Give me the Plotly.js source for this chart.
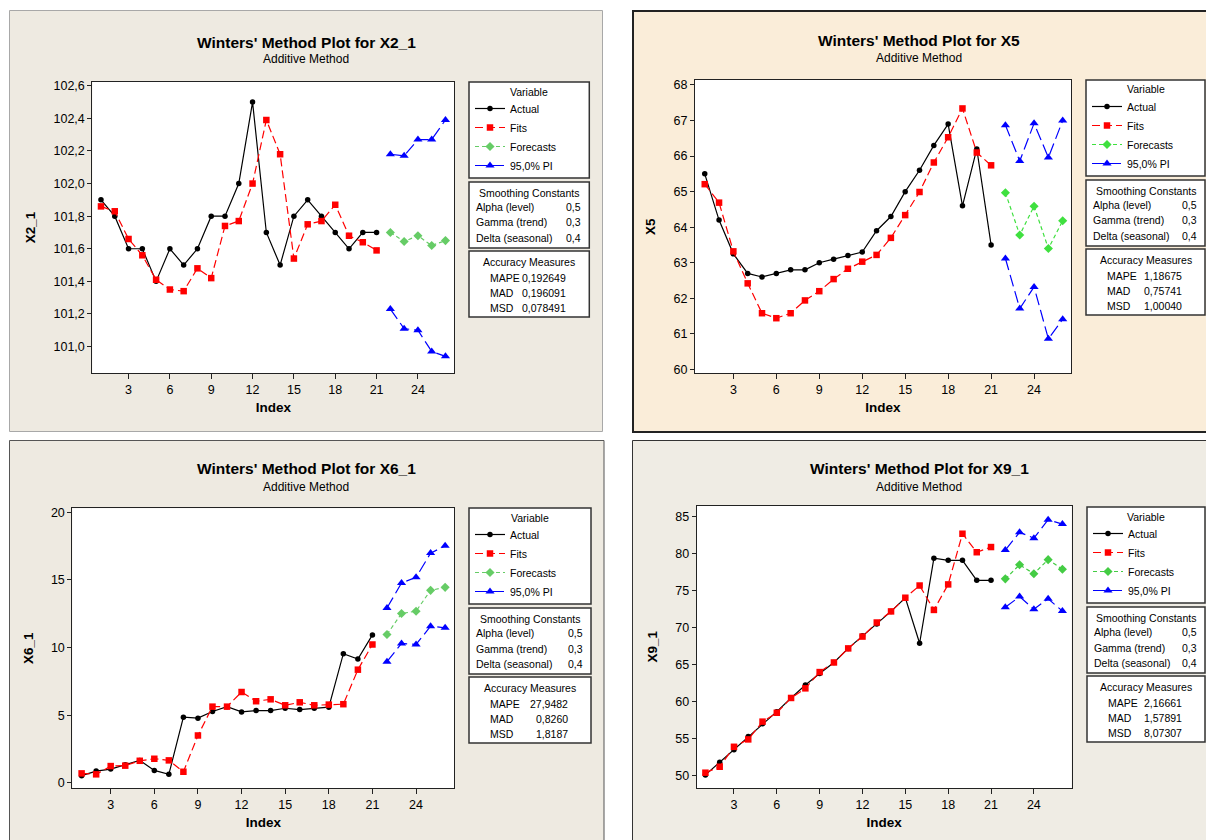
<!DOCTYPE html>
<html>
<head>
<meta charset="utf-8">
<script src="https://cdn.plot.ly/plotly-3.0.1.min.js"></script>
<style>
html, body { margin: 0; padding: 0; background: #ffffff; }
#chart { width: 1206px; height: 840px; }
</style>
</head>
<body>
<div id="chart"></div>
<script>
// ---------------- data ----------------
const fitIndex = [1, 2, 3, 4, 5, 6, 7, 8, 9, 10, 11, 12, 13, 14, 15, 16, 17, 18, 19, 20, 21];
const forecastIndex = [22, 23, 24, 25, 26];
const indexTicks = [3, 6, 9, 12, 15, 18, 21, 24];
const seriesNames = ['Actual', 'Fits', 'Forecasts', '95,0% PI'];
const smoothingLabels = ['Alpha (level)', 'Gamma (trend)', 'Delta (seasonal)'];
const smoothingValues = ['0,5', '0,3', '0,4'];
const accuracyLabels = ['MAPE', 'MAD', 'MSD'];
const panelTitles = ["Winters' Method Plot for X2_1", "Winters' Method Plot for X5", "Winters' Method Plot for X6_1", "Winters' Method Plot for X9_1"];
const panelSubtitle = 'Additive Method';
const variableNames = ['X2_1', 'X5', 'X6_1', 'X9_1'];

// X2_1
const x2Actual = [101.9, 101.8, 101.6, 101.6, 101.4, 101.6, 101.5, 101.6, 101.8, 101.8, 102.0, 102.5, 101.7, 101.5, 101.8, 101.9, 101.8, 101.7, 101.6, 101.7, 101.7];
const x2Fits = [101.86, 101.83, 101.66, 101.56, 101.41, 101.35, 101.34, 101.48, 101.42, 101.74, 101.77, 102.00, 102.39, 102.18, 101.54, 101.75, 101.77, 101.87, 101.68, 101.64, 101.59];
const x2Forecast = [101.70, 101.645, 101.68, 101.62, 101.65];
const x2Upper = [102.18, 102.17, 102.27, 102.27, 102.39];
const x2Lower = [101.23, 101.11, 101.10, 100.97, 100.94];
const x2Accuracy = ['0,192649', '0,196091', '0,078491'];
const x2YTicks = [101.0, 101.2, 101.4, 101.6, 101.8, 102.0, 102.2, 102.4, 102.6];

// X5
const x5Actual = [65.5, 64.2, 63.25, 62.7, 62.6, 62.7, 62.8, 62.8, 63.0, 63.1, 63.2, 63.3, 63.9, 64.3, 65.0, 65.6, 66.3, 66.9, 64.6, 66.2, 63.5];
const x5Fits = [65.21, 64.69, 63.32, 62.42, 61.58, 61.44, 61.58, 61.94, 62.20, 62.54, 62.83, 63.03, 63.22, 63.70, 64.34, 64.99, 65.82, 66.53, 67.34, 66.10, 65.74];
const x5Forecast = [64.97, 63.78, 64.59, 63.40, 64.18];
const x5Upper = [66.87, 65.86, 66.92, 65.96, 67.00];
const x5Lower = [63.12, 61.71, 62.32, 60.86, 61.41];
const x5Accuracy = ['1,18675', '0,75741', '1,00040'];
const x5YTicks = [60, 61, 62, 63, 64, 65, 66, 67, 68];

// X6_1
const x6Actual = [0.54, 0.88, 1.03, 1.35, 1.67, 0.93, 0.64, 4.86, 4.79, 5.28, 5.64, 5.25, 5.35, 5.35, 5.52, 5.42, 5.52, 5.60, 9.55, 9.15, 10.94];
const x6Fits = [0.71, 0.64, 1.25, 1.28, 1.64, 1.79, 1.67, 0.83, 3.51, 5.64, 5.64, 6.72, 6.04, 6.18, 5.74, 5.96, 5.74, 5.79, 5.82, 8.37, 10.23];
const x6Forecast = [10.97, 12.52, 12.69, 14.23, 14.45];
const x6Upper = [12.93, 14.77, 15.19, 16.98, 17.52];
const x6Lower = [8.96, 10.31, 10.23, 11.58, 11.46];
const x6Accuracy = ['27,9482', '0,8260', '1,8187'];
const x6YTicks = [0, 5, 10, 15, 20];

// X9_1
const x9Actual = [50.1, 51.8, 53.5, 55.3, 57.0, 58.65, 60.5, 62.25, 63.8, 65.3, 67.2, 68.9, 70.5, 72.2, 74.05, 67.9, 79.4, 79.1, 79.1, 76.4, 76.4];
const x9Fits = [50.4, 51.2, 53.9, 54.9, 57.3, 58.5, 60.5, 61.8, 64.0, 65.3, 67.2, 68.8, 70.7, 72.2, 74.05, 75.7, 72.4, 75.85, 82.7, 80.2, 80.9];
const x9Forecast = [76.6, 78.5, 77.3, 79.2, 77.9];
const x9Upper = [80.5, 82.9, 82.1, 84.6, 84.0];
const x9Lower = [72.75, 74.2, 72.5, 73.9, 72.25];
const x9Accuracy = ['2,16661', '1,57891', '8,07307'];
const x9YTicks = [50, 55, 60, 65, 70, 75, 80, 85];

// ---------------- layout helpers ----------------
const W = 1206, H = 840;
const FONT = 'Liberation Sans, Arial, Helvetica, sans-serif';
const px = v => v / W;
const py = v => 1 - v / H;

const panels = [
  { actual: x2Actual, fits: x2Fits, fc: x2Forecast, up: x2Upper, lo: x2Lower, acc: x2Accuracy, yticks: x2YTicks, yfmt: '.1f',
    plot: [92.3, 81.7, 454.3, 373.3], xr: [0.37, 26.64], yr: [100.836, 102.625],
    bg: [9.5, 10.5, 602.5, 431.5], bgFill: '#EEEAE1', bgLine: '#A8A8A8', bgW: 1,
    box: [469, 589.3, 82], tc: 306, ty: 42, sy: 59, green: '#66CC66' },
  { actual: x5Actual, fits: x5Fits, fc: x5Forecast, up: x5Upper, lo: x5Lower, acc: x5Accuracy, yticks: x5YTicks, yfmt: 'd',
    plot: [695, 80, 1071, 373.3], xr: [0.32, 26.58], yr: [59.89, 68.14],
    bg: [633, 11, 1215, 432], bgFill: '#FAEDD9', bgLine: '#222222', bgW: 2,
    box: [1086, 1205, 80], tc: 919, ty: 40, sy: 58, green: '#3FE03F' },
  { actual: x6Actual, fits: x6Fits, fc: x6Forecast, up: x6Upper, lo: x6Lower, acc: x6Accuracy, yticks: x6YTicks, yfmt: 'd',
    plot: [72.3, 508.3, 454.3, 788], xr: [0.36, 26.63], yr: [-0.37, 20.29],
    bg: [9.5, 440.5, 604, 855], bgFill: '#EEEAE1', bgLine: '#555555', bgW: 1,
    box: [469, 591, 508], tc: 306, ty: 468, sy: 487, green: '#66CC66' },
  { actual: x9Actual, fits: x9Fits, fc: x9Forecast, up: x9Upper, lo: x9Lower, acc: x9Accuracy, yticks: x9YTicks, yfmt: 'd',
    plot: [696.7, 505.7, 1071.7, 788], xr: [0.39, 26.65], yr: [48.33, 86.49],
    bg: [632.5, 440.5, 1215, 855], bgFill: '#EFECE4', bgLine: '#333333', bgW: 1,
    box: [1087, 1205, 507], tc: 919, ty: 468, sy: 487, green: '#44CC44' }
];

const traces = [];
const shapes = [];
const annotations = [];
const layout = {
  width: W, height: H,
  margin: { l: 0, r: 0, t: 0, b: 0, pad: 0 },
  paper_bgcolor: '#ffffff',
  plot_bgcolor: 'rgba(0,0,0,0)',
  separators: ',.',
  font: { family: FONT, size: 12, color: '#000000' },
  showlegend: true,
  shapes: shapes,
  annotations: annotations
};

const LEG_H = 96, SM_H = 66, AC_H = 66, GAP = 4;

panels.forEach((p, i) => {
  const n = i === 0 ? '' : String(i + 1);
  const xref = 'x' + n, yref = 'y' + n, legId = 'legend' + n;
  const [pl, pt, pr, pb] = p.plot;

  // panel background
  shapes.push({ type: 'rect', xref: 'paper', yref: 'paper', layer: 'below',
    x0: px(p.bg[0]), x1: px(p.bg[2]), y0: py(p.bg[3]), y1: py(p.bg[1]),
    fillcolor: p.bgFill, line: { color: p.bgLine, width: p.bgW } });
  // white plotting area
  shapes.push({ type: 'rect', xref: 'paper', yref: 'paper', layer: 'below',
    x0: px(pl), x1: px(pr), y0: py(pb), y1: py(pt),
    fillcolor: '#ffffff', line: { width: 0 } });

  // axes
  layout['xaxis' + n] = {
    domain: [px(pl), px(pr)], anchor: yref, range: p.xr,
    tickmode: 'array', tickvals: indexTicks, ticks: 'outside', ticklen: 5, tickwidth: 1, tickcolor: '#222',
    showline: true, mirror: true, linecolor: '#222', linewidth: 1,
    showgrid: false, zeroline: false,
    tickfont: { family: FONT, size: 12.5, color: '#000' },
    title: { text: '<b>Index</b>', font: { family: FONT, size: 13.5, color: '#000' }, standoff: 6 }
  };
  layout['yaxis' + n] = {
    domain: [py(pb), py(pt)], anchor: xref, range: p.yr,
    tickmode: 'array', tickvals: p.yticks, tickformat: p.yfmt, ticks: 'outside', ticklen: 4, tickwidth: 1, tickcolor: '#222',
    showline: true, mirror: true, linecolor: '#222', linewidth: 1,
    showgrid: false, zeroline: false,
    tickfont: { family: FONT, size: 12.5, color: '#000' },
    title: { text: '<b>' + variableNames[i] + '</b>', font: { family: FONT, size: 13.5, color: '#000' }, standoff: 14 }
  };

  // series
  traces.push({ type: 'scatter', mode: 'lines+markers', name: seriesNames[0], x: fitIndex, y: p.actual,
    xaxis: xref, yaxis: yref, legend: legId, cliponaxis: false,
    line: { color: '#000000', width: 1.2 }, marker: { symbol: 'circle', size: 5.5, color: '#000000' } });
  traces.push({ type: 'scatter', mode: 'lines+markers', name: seriesNames[1], x: fitIndex, y: p.fits,
    xaxis: xref, yaxis: yref, legend: legId, cliponaxis: false,
    line: { color: '#FF0000', width: 1.2, dash: '8px,4px' }, marker: { symbol: 'square', size: 6.5, color: '#FF0000' } });
  traces.push({ type: 'scatter', mode: 'lines+markers', name: seriesNames[2], x: forecastIndex, y: p.fc,
    xaxis: xref, yaxis: yref, legend: legId, cliponaxis: false,
    line: { color: p.green, width: 1.2, dash: '4px,3px' }, marker: { symbol: 'diamond', size: 7, color: p.green } });
  traces.push({ type: 'scatter', mode: 'lines+markers', name: seriesNames[3], x: forecastIndex, y: p.up,
    xaxis: xref, yaxis: yref, legend: legId, legendgroup: 'pi' + i, cliponaxis: false,
    line: { color: '#0000FF', width: 1.2, dash: '12px,5px' }, marker: { symbol: 'triangle-up', size: 8, color: '#0000FF' } });
  traces.push({ type: 'scatter', mode: 'lines+markers', name: seriesNames[3], x: forecastIndex, y: p.lo,
    xaxis: xref, yaxis: yref, legend: legId, legendgroup: 'pi' + i, showlegend: false, cliponaxis: false,
    line: { color: '#0000FF', width: 1.2, dash: '12px,5px' }, marker: { symbol: 'triangle-up', size: 8, color: '#0000FF' } });

  // titles
  annotations.push({ xref: 'paper', yref: 'paper', x: px(p.tc), y: py(p.ty), xanchor: 'center', yanchor: 'middle', showarrow: false,
    text: '<b>' + panelTitles[i] + '</b>', font: { family: FONT, size: 15.5, color: '#000' } });
  annotations.push({ xref: 'paper', yref: 'paper', x: px(p.tc), y: py(p.sy), xanchor: 'center', yanchor: 'middle', showarrow: false,
    text: panelSubtitle, font: { family: FONT, size: 12, color: '#000' } });

  // legend box
  const [bl, br, bt] = p.box;
  const bc = (bl + br) / 2;
  shapes.push({ type: 'rect', xref: 'paper', yref: 'paper', layer: 'below',
    x0: px(bl), x1: px(br), y0: py(bt + LEG_H), y1: py(bt), fillcolor: '#ffffff', line: { color: '#333', width: 1.5 } });
  annotations.push({ xref: 'paper', yref: 'paper', x: px(bc), y: py(bt + 9.5), xanchor: 'center', yanchor: 'middle', showarrow: false,
    text: 'Variable', font: { family: FONT, size: 10.5, color: '#000' } });
  layout[legId] = {
    x: px(bl + 1), y: py(bt + 12), xanchor: 'left', yanchor: 'top',
    bgcolor: 'rgba(0,0,0,0)', borderwidth: 0, itemwidth: 30, tracegroupgap: 0,
    font: { family: FONT, size: 10.5, color: '#000' }
  };

  // smoothing constants box
  const st = bt + LEG_H + GAP;
  shapes.push({ type: 'rect', xref: 'paper', yref: 'paper', layer: 'below',
    x0: px(bl), x1: px(br), y0: py(st + SM_H), y1: py(st), fillcolor: '#ffffff', line: { color: '#333', width: 1.5 } });
  annotations.push({ xref: 'paper', yref: 'paper', x: px(bc), y: py(st + 10.7), xanchor: 'center', yanchor: 'middle', showarrow: false,
    text: 'Smoothing Constants', font: { family: FONT, size: 10.5, color: '#000' } });
  smoothingLabels.forEach((lab, k) => {
    const yy = st + 25 + k * 15.5;
    annotations.push({ xref: 'paper', yref: 'paper', x: px(bl + 5), y: py(yy), xanchor: 'left', yanchor: 'middle', showarrow: false,
      text: lab, font: { family: FONT, size: 10.5, color: '#000' } });
    annotations.push({ xref: 'paper', yref: 'paper', x: px(br - 6), y: py(yy), xanchor: 'right', yanchor: 'middle', showarrow: false,
      text: smoothingValues[k], font: { family: FONT, size: 10.5, color: '#000' } });
  });

  // accuracy measures box
  const at = st + SM_H + GAP - 1;
  shapes.push({ type: 'rect', xref: 'paper', yref: 'paper', layer: 'below',
    x0: px(bl), x1: px(br), y0: py(at + AC_H), y1: py(at), fillcolor: '#ffffff', line: { color: '#333', width: 1.5 } });
  annotations.push({ xref: 'paper', yref: 'paper', x: px(bc), y: py(at + 11), xanchor: 'center', yanchor: 'middle', showarrow: false,
    text: 'Accuracy Measures', font: { family: FONT, size: 10.5, color: '#000' } });
  accuracyLabels.forEach((lab, k) => {
    const yy = at + 27 + k * 15;
    annotations.push({ xref: 'paper', yref: 'paper', x: px(bl + 19), y: py(yy), xanchor: 'left', yanchor: 'middle', showarrow: false,
      text: lab, font: { family: FONT, size: 10.5, color: '#000' } });
    annotations.push({ xref: 'paper', yref: 'paper', x: px(br - 21), y: py(yy), xanchor: 'right', yanchor: 'middle', showarrow: false,
      text: p.acc[k], font: { family: FONT, size: 10.5, color: '#000' } });
  });
});

Plotly.newPlot('chart', traces, layout, { displayModeBar: false, staticPlot: true });
</script>
</body>
</html>
